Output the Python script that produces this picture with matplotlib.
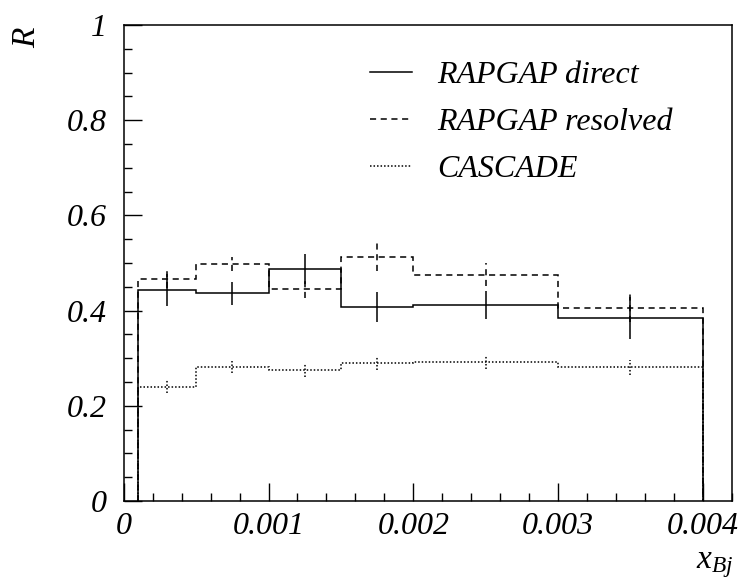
import matplotlib
matplotlib.use("Agg")
from matplotlib import pyplot as plt
from matplotlib.ticker import MultipleLocator
import numpy as np

# bin edges in x_Bj
edges = [0.0001, 0.0005, 0.001, 0.0015, 0.002, 0.003, 0.004]

# RAPGAP direct
r_direct = [0.443, 0.436, 0.487, 0.408, 0.412, 0.385]
e_direct = [0.034, 0.024, 0.031, 0.031, 0.030, 0.044]
# RAPGAP resolved
r_resolved = [0.467, 0.498, 0.445, 0.512, 0.475, 0.405]
e_resolved = [0.020, 0.014, 0.019, 0.029, 0.024, 0.030]
# CASCADE
r_cascade = [0.240, 0.281, 0.275, 0.290, 0.291, 0.281]
e_cascade = [0.014, 0.012, 0.014, 0.014, 0.014, 0.016]

plt.rcParams['font.family'] = ['Liberation Serif', 'DejaVu Serif']
plt.rcParams['font.style'] = 'italic'
plt.rcParams['mathtext.fontset'] = 'custom'
plt.rcParams['mathtext.it'] = 'Liberation Serif:italic'
plt.rcParams['mathtext.rm'] = 'Liberation Serif:italic'

fig = plt.figure(figsize=(7.41, 5.83), dpi=100)
ax = fig.add_axes([0.167, 0.1407, 0.8205, 0.8165])

edges_a = np.array(edges)
centers = 0.5 * (edges_a[:-1] + edges_a[1:])

styles = [
    (r_direct, e_direct, '-', 'RAPGAP direct'),
    (r_resolved, e_resolved, (0, (4, 3)), 'RAPGAP resolved'),
    (r_cascade, e_cascade, (0, (1, 1.3)), 'CASCADE'),
]
for vals, errs, ls, lab in styles:
    v = np.array(vals)
    e = np.array(errs)
    ax.stairs(v, edges_a, baseline=0, color='k', linewidth=1.1, linestyle=ls)
    ax.vlines(centers, v - e, v + e, colors='k', linewidth=1.1, linestyles=[ls])
    ax.plot([], [], color='k', linewidth=1.1, linestyle=ls, label=lab)

ax.set_xlim(0, 0.0042)
ax.set_ylim(0, 1)
ax.xaxis.set_major_locator(MultipleLocator(0.001))
ax.xaxis.set_minor_locator(MultipleLocator(0.0002))
ax.yaxis.set_major_locator(MultipleLocator(0.2))
ax.yaxis.set_minor_locator(MultipleLocator(0.05))
ax.set_xticks([0, 0.001, 0.002, 0.003, 0.004])
ax.set_xticklabels(['0', '0.001', '0.002', '0.003', '0.004'])
ax.set_yticks([0, 0.2, 0.4, 0.6, 0.8, 1])
ax.set_yticklabels(['0', '0.2', '0.4', '0.6', '0.8', '1'])

ax.tick_params(which='both', direction='in', top=False, right=False, labelsize=23)
ax.tick_params(which='major', length=13, width=1)
ax.tick_params(which='minor', length=6, width=1)
ax.tick_params(axis='y', pad=12)
ax.tick_params(axis='x', pad=8)
for s in ax.spines.values():
    s.set_linewidth(1.1)

fig.text(27 / 741, 1 - 38 / 583, 'R', fontsize=24, rotation=90, ha='center', va='center')
fig.text(733 / 741, 1 - 565 / 583, r'$x_{Bj}$', fontsize=24, ha='right', va='center')

ax.legend(loc='upper left', bbox_to_anchor=(0.405, 0.924), frameon=False, fontsize=23,
          handlelength=1.3, handletextpad=0.8, labelspacing=0.55, borderpad=0, borderaxespad=0)

fig.savefig('out.png', dpi=100)
